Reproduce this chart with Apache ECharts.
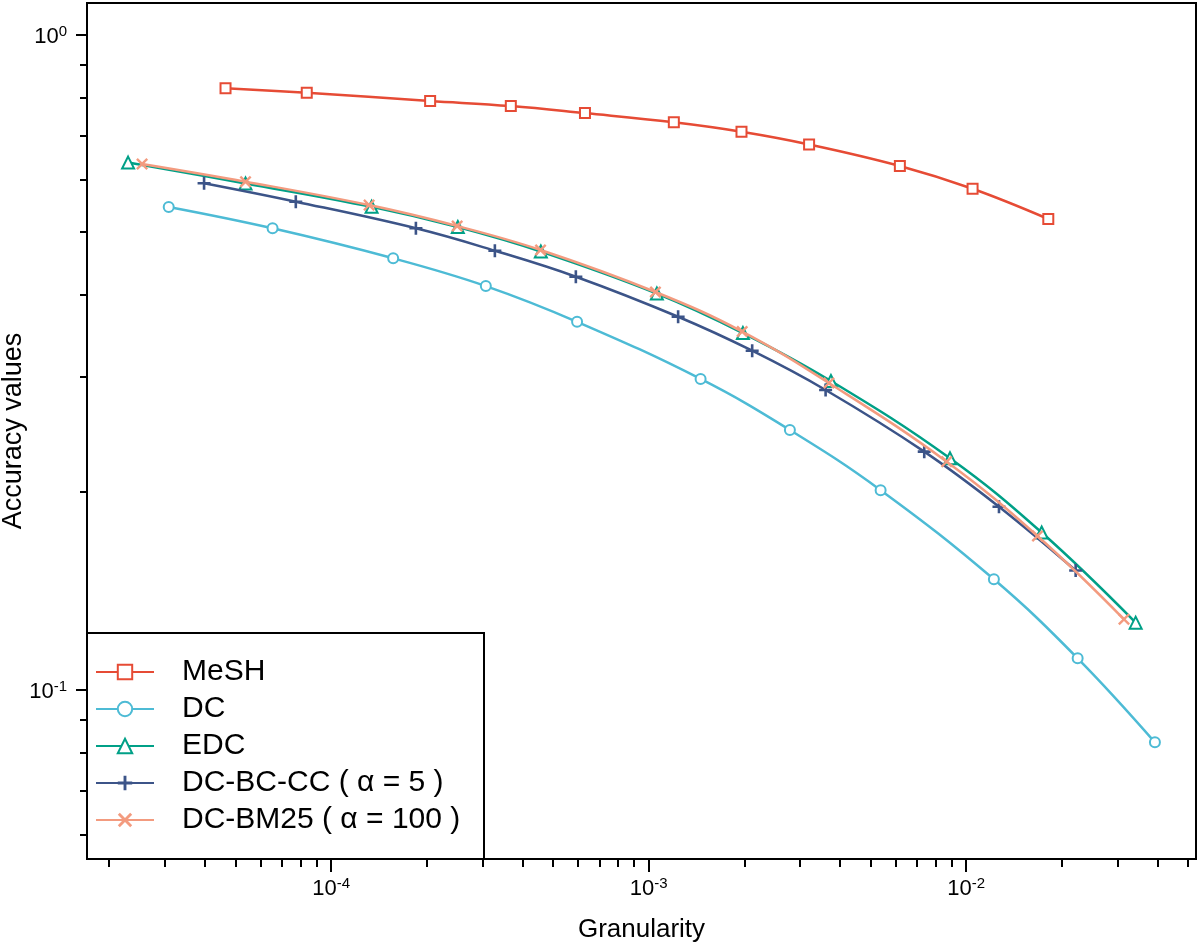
<!DOCTYPE html>
<html><head><meta charset="utf-8">
<script src="https://cdn.jsdelivr.net/npm/echarts@6/dist/echarts.min.js"></script>
<style>html,body{margin:0;padding:0;background:#fff}#c{width:1200px;height:947px}</style>
</head><body><div id="c"></div>
<script>
const seriesNames = ['MeSH', 'DC', 'EDC', 'DC-BC-CC ( α = 5 )', 'DC-BM25 ( α = 100 )'];

const meshX = [4.65e-5, 8.38e-5, 2.05e-4, 3.68e-4, 6.30e-4, 1.20e-3, 1.96e-3, 3.20e-3, 6.18e-3, 1.047e-2, 1.813e-2];
const meshY = [0.827, 0.814, 0.791, 0.777, 0.758, 0.734, 0.710, 0.679, 0.6295, 0.581, 0.5224];

const dcX = [3.08e-5, 6.54e-5, 1.568e-4, 3.07e-4, 5.95e-4, 1.457e-3, 2.784e-3, 5.375e-3, 1.222e-2, 2.243e-2, 3.928e-2];
const dcY = [0.545, 0.5056, 0.455, 0.4127, 0.364, 0.2977, 0.2488, 0.2014, 0.1472, 0.1115, 0.0830];

const edcX = [2.294e-5, 5.375e-5, 1.341e-4, 2.506e-4, 4.575e-4, 1.061e-3, 1.98e-3, 3.749e-3, 8.887e-3, 1.728e-2, 3.416e-2];
const edcY = [0.637, 0.592, 0.5453, 0.5078, 0.466, 0.402, 0.3499, 0.2956, 0.2253, 0.1735, 0.1264];

const bcccX = [3.98e-5, 7.74e-5, 1.849e-4, 3.278e-4, 5.897e-4, 1.238e-3, 2.118e-3, 3.607e-3, 7.375e-3, 1.268e-2, 2.211e-2];
const bcccY = [0.5924, 0.5552, 0.5056, 0.4673, 0.4265, 0.3705, 0.3288, 0.2864, 0.2306, 0.190, 0.1518];

const bm25X = [2.539e-5, 5.375e-5, 1.317e-4, 2.494e-4, 4.565e-4, 1.05e-3, 1.97e-3, 3.695e-3, 8.677e-3, 1.676e-2, 3.139e-2];
const bm25Y = [0.6339, 0.5956, 0.5486, 0.5097, 0.4685, 0.4042, 0.3517, 0.2935, 0.2226, 0.1714, 0.1279];

const xMajorTicks = [1e-4, 1e-3, 1e-2];
const xMinorTicks = [2e-5, 3e-5, 4e-5, 5e-5, 6e-5, 7e-5, 8e-5, 9e-5,
  2e-4, 3e-4, 4e-4, 5e-4, 6e-4, 7e-4, 8e-4, 9e-4,
  2e-3, 3e-3, 4e-3, 5e-3, 6e-3, 7e-3, 8e-3, 9e-3,
  2e-2, 3e-2, 4e-2, 5e-2];
const yMajorTicks = [0.1, 1];
const yMinorTicks = [0.06, 0.07, 0.08, 0.09, 0.2, 0.3, 0.4, 0.5, 0.6, 0.7, 0.8, 0.9];

const colors = ['#E64B35', '#4DBBD5', '#00A087', '#3C5488', '#F39B7F'];
const FONT = '"Liberation Sans", Arial, Helvetica, sans-serif';

const plusPath = 'path://M8,0H12V20H8ZM0,8H20V12H0Z';
const crossPath = 'path://M2.8,0L10,7.2L17.2,0L20,2.8L12.8,10L20,17.2L17.2,20L10,12.8L2.8,20L0,17.2L7.2,10L0,2.8Z';

function pairs(xs, ys) { return xs.map((x, i) => [x, ys[i]]); }

const X_MIN = 1.703e-5, X_MAX = 0.05291;
const Y_MIN = 0.05507, Y_MAX = 1.1163;

function expLabel(v) {
  const e = Math.round(Math.log10(v));
  return '{b|10}{s|' + e + '}';
}
const labelRich = {
  b: { fontSize: 22, fontFamily: FONT, color: '#000', lineHeight: 26 },
  s: { fontSize: 15, fontFamily: FONT, color: '#000', lineHeight: 15, verticalAlign: 'top' }
};

const chart = echarts.init(document.getElementById('c'), null, { renderer: 'canvas' });

const symbols = ['emptyRect', 'emptyCircle', 'emptyTriangle', plusPath, crossPath];
const sizes = [10, 10, 12, 13, 12];
const datasets = [pairs(meshX, meshY), pairs(dcX, dcY), pairs(edcX, edcY), pairs(bcccX, bcccY), pairs(bm25X, bm25Y)];

const series = seriesNames.map((name, i) => ({
  name: name,
  type: 'line',
  xAxisIndex: 0,
  yAxisIndex: 0,
  data: datasets[i],
  smooth: 0.4,
  symbol: symbols[i],
  symbolSize: sizes[i],
  showAllSymbol: true,
  lineStyle: { color: colors[i], width: 2.5 },
  itemStyle: { color: colors[i], borderWidth: i < 3 ? 2.2 : 0 },
  z: 2 + i
}));

chart.setOption({
  animation: false,
  backgroundColor: '#fff',
  grid: { left: 87, right: 4, top: 3, bottom: 88, containLabel: false, outerBoundsMode: 'none',
    show: true, borderColor: '#000', borderWidth: 2, backgroundColor: 'transparent' },
  graphic: [{
    type: 'rect', z: 3,
    shape: { x: 87, y: 633, width: 397, height: 226 },
    style: { fill: '#fff', stroke: '#000', lineWidth: 2 }
  }],
  legend: {
    left: 95, top: 657, orient: 'vertical', padding: 0,
    itemWidth: 58, itemHeight: 18, itemGap: 7,
    selectedMode: false, z: 10,
    data: seriesNames,
    textStyle: { fontSize: 30, fontFamily: FONT, color: '#000', lineHeight: 30, padding: [0, 0, 0, 23] }
  },
  xAxis: [{
    type: 'log', min: X_MIN, max: X_MAX, position: 'bottom',
    axisLine: { show: false }, splitLine: { show: false },
    axisTick: { show: true, customValues: xMajorTicks, length: 13, lineStyle: { color: '#000', width: 2 } },
    axisLabel: { customValues: xMajorTicks, formatter: expLabel, rich: labelRich, fontSize: 22, fontFamily: FONT, color: '#000', margin: 17 },
    name: 'Granularity', nameLocation: 'middle', nameGap: 58, nameMoveOverlap: false,
    nameTextStyle: { fontSize: 26, fontFamily: FONT, color: '#000' }
  }, {
    type: 'log', min: X_MIN, max: X_MAX, position: 'bottom',
    axisLine: { show: false }, splitLine: { show: false },
    axisTick: { show: true, customValues: xMinorTicks, length: 8, lineStyle: { color: '#000', width: 2 } },
    axisLabel: { show: false }
  }],
  yAxis: [{
    type: 'log', min: Y_MIN, max: Y_MAX, position: 'left',
    axisLine: { show: false }, splitLine: { show: false },
    axisTick: { show: true, customValues: yMajorTicks, length: 11, lineStyle: { color: '#000', width: 2 } },
    axisLabel: { customValues: yMajorTicks, formatter: expLabel, rich: labelRich, fontSize: 22, fontFamily: FONT, color: '#000', margin: 20, padding: [6, 0, 0, 0] },
    name: 'Accuracy values', nameLocation: 'middle', nameGap: 60, nameMoveOverlap: false,
    nameTextStyle: { fontSize: 27, fontFamily: FONT, color: '#000' }
  }, {
    type: 'log', min: Y_MIN, max: Y_MAX, position: 'left',
    axisLine: { show: false }, splitLine: { show: false },
    axisTick: { show: true, customValues: yMinorTicks, length: 7, lineStyle: { color: '#000', width: 2 } },
    axisLabel: { show: false }
  }],
  series: series
});
</script>
</body></html>
